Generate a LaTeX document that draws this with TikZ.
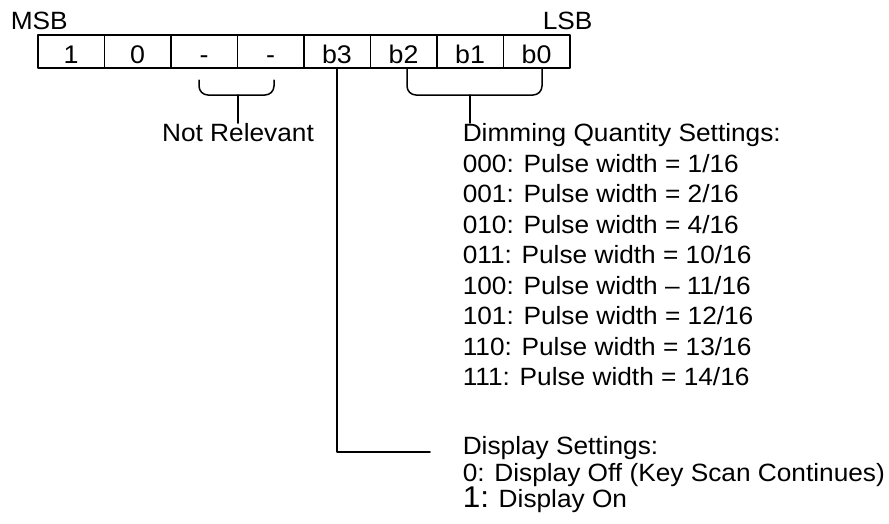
\documentclass[tikz,border=0pt]{standalone}
\usepackage{fontspec}
\setmainfont{Liberation Sans}[FakeStretch=1.05]
\usetikzlibrary{positioning}

\tikzset{
  bitcell/.style={draw,minimum width=66.5pt,minimum height=33pt,inner sep=0pt,text height=25pt,text depth=0pt,anchor=north west,font=\fontsize{25.5}{28}\selectfont},
  lbl/.style={inner sep=0pt,font=\fontsize{25}{28}\selectfont},
  brace/.style={rounded corners=9pt}
}

\begin{document}
\begin{tikzpicture}[x=1pt,y=-1pt,line cap=round,line join=round,line width=1.5pt]
	\useasboundingbox (0,0) rectangle (889,523);
	
	% register
	\foreach \t [count=\i from 0] in {1,0,-,-,b3,b2,b1,b0}
		\node[bitcell] (c\i) at (37+66.5*\i,34) {\t};
	
	\node[lbl,anchor=west] (msb) at (10,21) {MSB};
	\node[lbl,anchor=west] (lsb) at (542,21) {LSB};
	
	% not relevant
	\draw[brace] (199,80) -- (199,95) -- (274,95) -- (274,80);
	\coordinate (nrtop) at (238,95);
	\node[lbl] (notrel) at (238,133) {Not Relevant};
	\draw (nrtop) -- (notrel.north);
	
	% dimming
	\draw[brace] (407,68) -- (407,95) -- (542,95) -- (542,68);
	\coordinate (dimtop) at (470,95);
	\node[lbl,anchor=north west,align=left,font=\fontsize{25}{30.5}\selectfont] (dim) at (462,123)
		{Dimming Quantity Settings:\\
		 000: Pulse width = 1/16\\
		 001: Pulse width = 2/16\\
		 010: Pulse width = 4/16\\
		 011: Pulse width = 10/16\\
		 100: Pulse width -- 11/16\\
		 101: Pulse width = 12/16\\
		 110: Pulse width = 13/16\\
		 111: Pulse width = 14/16};
	\draw (dimtop) -- (dimtop |- dim.north);
	
	% display
	\node[lbl,anchor=north west,align=left,font=\fontsize{25}{26.5}\selectfont] (disp) at (462,436)
		{Display Settings:\\
		 0: Display Off (Key Scan Continues)\\
		 {\fontsize{30}{30}\selectfont 1:} Display On};
	\coordinate (dispend) at (430,452);
	\draw (c4.south) |- (dispend);
\end{tikzpicture}
\end{document}
